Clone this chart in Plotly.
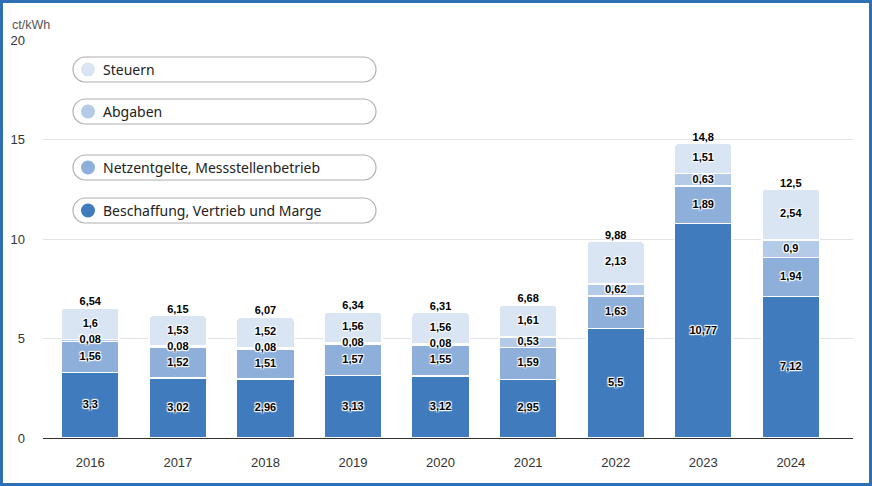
import plotly.graph_objects as go

years = ["2016", "2017", "2018", "2019", "2020", "2021", "2022", "2023", "2024"]
beschaffung = [3.3, 3.02, 2.96, 3.13, 3.12, 2.95, 5.5, 10.77, 7.12]
netzentgelte = [1.56, 1.52, 1.51, 1.57, 1.55, 1.59, 1.63, 1.89, 1.94]
abgaben = [0.08, 0.08, 0.08, 0.08, 0.08, 0.53, 0.62, 0.63, 0.9]
steuern = [1.6, 1.53, 1.52, 1.56, 1.56, 1.61, 2.13, 1.51, 2.54]
totals = [6.54, 6.15, 6.07, 6.34, 6.31, 6.68, 9.88, 14.8, 12.5]

series = [
    ("Beschaffung, Vertrieb und Marge", beschaffung, "#3f7bbd"),
    ("Netzentgelte, Messstellenbetrieb", netzentgelte, "#8dafda"),
    ("Abgaben", abgaben, "#b3cbe7"),
    ("Steuern", steuern, "#d9e5f2"),
]

W, H = 872, 486
ML, MR, MT, MB = 43, 19, 40, 48
PW, PH = W - ML - MR, H - MT - MB


def px2x(px):
    return (px - ML) / PW


def px2y(py):
    return (H - MB - py) / PH


def de(v):
    return str(v).replace(".", ",")


halo = ("-1px -1px 1px #fff, 1px -1px 1px #fff, -1px 1px 1px #fff, "
        "1px 1px 1px #fff, 0px 0px 2px #fff")
label_font = dict(family="Liberation Sans", size=11, color="#000", weight="bold")

fig = go.Figure()
base = [0.0] * len(years)
for name, vals, color in series:
    fig.add_trace(go.Bar(
        x=years, y=vals, name=name,
        marker=dict(color=color, line=dict(color="white", width=1.5)),
        width=0.66, showlegend=False, hoverinfo="skip",
    ))
    mids = [b + v / 2 for b, v in zip(base, vals)]
    base = [b + v for b, v in zip(base, vals)]
    # segment labels go in a text trace so the thin ones stay on top
    fig.add_trace(go.Scatter(
        x=years, y=mids, mode="text", text=[de(v) for v in vals],
        textposition="middle center",
        textfont=dict(label_font, shadow=halo),
        showlegend=False, hoverinfo="skip",
    ))

# move the label traces after all the bars
bars = [t for t in fig.data if t.type == "bar"]
texts = [t for t in fig.data if t.type == "scatter"]
fig.data = bars + texts

fig.add_trace(go.Scatter(
    x=years, y=totals, mode="text", text=[de(v) for v in totals],
    textposition="top center", textfont=label_font,
    showlegend=False, hoverinfo="skip",
))

# legend pills
shapes = []
annotations = []
pills = [(69.5, "Steuern", "#d9e5f2"), (111.5, "Abgaben", "#b3cbe7"),
         (167.5, "Netzentgelte, Messstellenbetrieb", "#8dafda"),
         (210.5, "Beschaffung, Vertrieb und Marge", "#3f7bbd")]
w, r = 303, 12.5
k = 0.5523 * r
pill_path = (f"M {r},{-r} L {w - r},{-r} C {w - r + k},{-r} {w},{-k} {w},0 "
             f"C {w},{k} {w - r + k},{r} {w - r},{r} L {r},{r} "
             f"C {r - k},{r} 0,{k} 0,0 C 0,{-k} {r - k},{-r} {r},{-r} Z")
for cy, label, color in pills:
    shapes.append(dict(type="path", xref="paper", yref="paper",
                       xsizemode="pixel", ysizemode="pixel",
                       xanchor=px2x(73), yanchor=px2y(cy), path=pill_path,
                       fillcolor="white", line=dict(color="#b0b0b0", width=1.2)))
    shapes.append(dict(type="circle", xref="paper", yref="paper",
                       xsizemode="pixel", ysizemode="pixel",
                       xanchor=px2x(88), yanchor=px2y(cy),
                       x0=-7, x1=7, y0=-7, y1=7,
                       fillcolor=color, line=dict(width=0)))
    annotations.append(dict(x=px2x(101), y=px2y(cy), xref="paper", yref="paper",
                            text=label, showarrow=False, xanchor="left",
                            yanchor="middle",
                            font=dict(family="Noto Sans", size=14, color="#222")))

# outer frame
shapes.append(dict(type="rect", xref="paper", yref="paper",
                   x0=px2x(1.5), x1=px2x(W - 1.5), y0=px2y(H - 1.5), y1=px2y(1.5),
                   line=dict(color="#2e6fb5", width=3), fillcolor="rgba(0,0,0,0)"))

annotations.append(dict(x=px2x(10), y=px2y(25), xref="paper", yref="paper",
                        text="ct/kWh", showarrow=False, xanchor="left",
                        yanchor="middle",
                        font=dict(family="Liberation Sans", size=12.5, color="#555")))

fig.update_layout(
    width=W, height=H,
    margin=dict(l=ML, r=MR, t=MT, b=MB),
    barmode="stack", barcornerradius=4,
    paper_bgcolor="white", plot_bgcolor="white",
    font=dict(family="Liberation Sans", size=13, color="#333"),
    xaxis=dict(type="category", range=[-0.54, 8.71], showgrid=False,
               showline=True, linecolor="#333", linewidth=1.2,
               ticks="", ticklabelstandoff=12,
               tickfont=dict(size=13, color="#333")),
    yaxis=dict(range=[0, 20], tickvals=[0, 5, 10, 15, 20],
               showgrid=True, gridcolor="#e3e3e3", gridwidth=1,
               zeroline=False, ticks="", ticklabelstandoff=17,
               tickfont=dict(size=13, color="#333")),
    shapes=shapes, annotations=annotations,
)

fig.write_html("out.html", config={"displayModeBar": False},
               post_script="document.body.style.margin='0';")
